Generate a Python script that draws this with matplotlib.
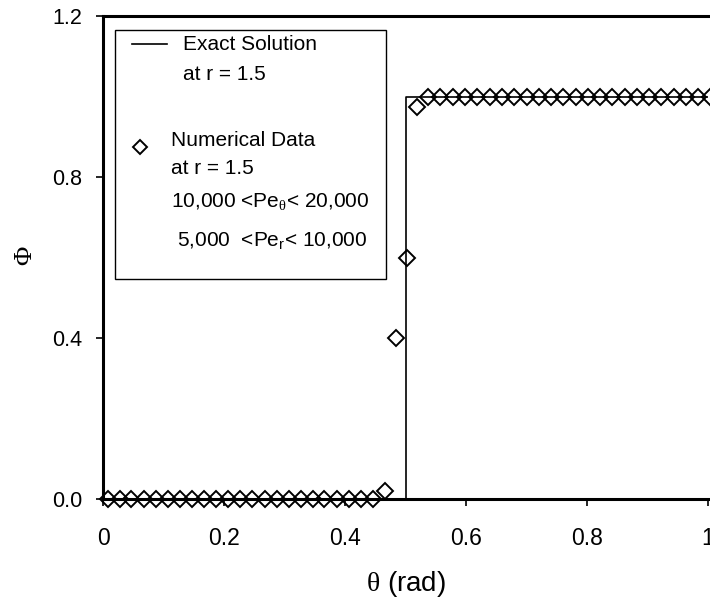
import numpy as np
import matplotlib
matplotlib.use('Agg')
import matplotlib.pyplot as plt
from matplotlib.patches import Rectangle
from matplotlib.lines import Line2D

plt.rcParams['font.family'] = ['Liberation Sans', 'DejaVu Sans']
plt.rcParams['mathtext.fontset'] = 'custom'
plt.rcParams['mathtext.rm'] = 'Liberation Serif'
plt.rcParams['mathtext.sf'] = 'Liberation Sans'

# ----------------------------------------------------------------------
# Data
# ----------------------------------------------------------------------
# exact solution (step at theta = 0.5)
exact_theta = [0.0, 0.5, 0.5, 1.0]
exact_phi = [0.0, 0.0, 1.0, 1.0]

# numerical data at r = 1.5
num_theta = [0.008, 0.028, 0.047, 0.067, 0.087, 0.107, 0.127, 0.147, 0.167,
             0.187, 0.207, 0.227, 0.247, 0.267, 0.287, 0.307, 0.327, 0.347,
             0.366, 0.386, 0.406, 0.426, 0.446,
             0.466, 0.485, 0.502, 0.519,
             0.537, 0.557, 0.578, 0.598, 0.618, 0.639, 0.659, 0.679, 0.700,
             0.720, 0.740, 0.761, 0.781, 0.801, 0.822, 0.842, 0.862, 0.883,
             0.903, 0.923, 0.944, 0.964, 0.984, 1.004]
num_phi = [0.0] * 23 + [0.02, 0.40, 0.60, 0.975] + [1.0] * 24

x_ticks = [0, 0.2, 0.4, 0.6, 0.8, 1.0]
x_tick_labels = ['0', '0.2', '0.4', '0.6', '0.8', '1']
y_ticks = [0.0, 0.4, 0.8, 1.2]
y_tick_labels = ['0.0', '0.4', '0.8', '1.2']

W, H = 710, 598
fig = plt.figure(figsize=(W / 100, H / 100), dpi=100)
# axes box in pixels: left 103, right 708, top 16, bottom 499
ax = fig.add_axes([103 / W, (H - 499) / H, 605 / W, 483 / H])


def px(x, y):
    """pixel position of the reference -> axes fraction"""
    return (x - 103) / 605, (499 - y) / 483


ax.plot(exact_theta, exact_phi, color='black', lw=1.2, zorder=3)
ax.plot(num_theta, num_phi, linestyle='none', marker='D', markersize=8.3,
        mfc='none', mec='black', mew=1.4, clip_on=False, zorder=4)

ax.set_xlim(0, 1.0)
ax.set_ylim(0, 1.2)
ax.set_xticks(x_ticks)
ax.set_xticklabels(x_tick_labels, fontsize=16.5)
ax.set_yticks(y_ticks)
ax.set_yticklabels(y_tick_labels, fontsize=15.5)
ax.tick_params(axis='x', direction='out', length=5, width=1.2, pad=15)
ax.tick_params(axis='y', direction='out', length=5, width=1.2, pad=10)

for side in ['left', 'bottom', 'top']:
    ax.spines[side].set_linewidth(2.2)
ax.spines['right'].set_visible(False)

ax.set_xlabel(r'$\mathrm{\theta}$ (rad)', fontsize=20, labelpad=14)
fig.text(25 / W, 1 - 255 / H, 'Φ', rotation=90, fontsize=19,
         family=['Liberation Serif'], ha='center', va='center')

# ---- hand drawn legend box ----
x0, y0 = px(115, 279)
x1, y1 = px(386, 30)
ax.add_patch(Rectangle((x0, y0), x1 - x0, y1 - y0, transform=ax.transAxes,
                       fill=False, lw=1.0, edgecolor='black', zorder=5))
lx0, ly = px(132, 44)
lx1, _ = px(167, 44)
ax.add_line(Line2D([lx0, lx1], [ly, ly], transform=ax.transAxes,
                   color='black', lw=1.2, zorder=5))
mx, my = px(140, 147)
ax.plot([mx], [my], transform=ax.transAxes, marker='D', markersize=7.5,
        mfc='none', mec='black', mew=1.4, linestyle='none', zorder=5)

legend_texts = [
    (183, 45, 'Exact Solution'),
    (183, 75, 'at r = 1.5'),
    (171, 140, 'Numerical Data'),
    (171, 168, 'at r = 1.5'),
    (171, 202, r'10,000 <Pe$_{\mathrm{\theta}}$< 20,000'),
    (177, 241, r'5,000  <Pe$_{\mathsf{r}}$< 10,000'),
]
for tx, ty, s in legend_texts:
    ax.text(*px(tx, ty), s, transform=ax.transAxes, fontsize=15,
            ha='left', va='center', zorder=6)

fig.savefig('out.png', dpi=100)
